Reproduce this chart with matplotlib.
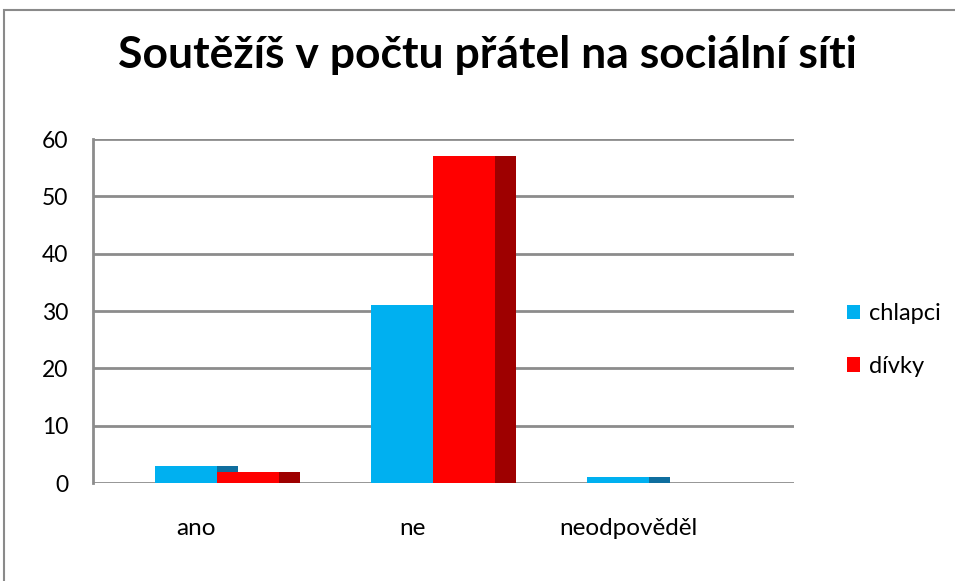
import numpy as np
import matplotlib.pyplot as plt
from matplotlib.patches import Rectangle

plt.rcParams['font.family'] = ['Lato', 'DejaVu Sans']

# data
categories = ['ano', 'ne', 'neodpověděl']
series_names = ['chlapci', 'dívky']
chlapci = [3, 31, 1]
divky = [2, 57, 0]
values = [chlapci, divky]
front_colors = ['#00B0F0', '#FF0000']
side_colors = ['#0F6E9E', '#9E0000']
grid_color = '#8C8C8C'

fig = plt.figure(figsize=(9.55, 5.81), dpi=100)
W, H = 955, 581
# plot area in pixels: x 93..794, y 139..483
ax = fig.add_axes([93 / W, (H - 483) / H, 701 / W, 344 / H])

w = 0.287   # front face width (one category = 1 unit)
d = 0.097   # visible depth of the side face
x = np.arange(len(categories))

for j, vals in enumerate(values):
    ax.bar(x + j * w, vals, width=w, align='edge', color=front_colors[j],
           edgecolor='none', zorder=3 + 2 * j, label=series_names[j])
    ax.bar(x + (j + 1) * w, vals, width=d, align='edge', color=side_colors[j],
           edgecolor='none', zorder=4 + 2 * j)

ax.set_xlim(-0.287, -0.287 + 701 / 216)
ax.set_ylim(0, 60)
ax.set_yticks(range(0, 61, 10))
ax.yaxis.grid(True, color=grid_color, linewidth=2, zorder=0)
ax.set_axisbelow(True)
ax.tick_params(axis='y', length=0, pad=18, labelsize=16.5)
ax.set_xticks(x + 0.19)
ax.set_xticklabels(categories)
ax.tick_params(axis='x', length=0, pad=25, labelsize=17.5)
for s in ['top', 'right', 'bottom']:
    ax.spines[s].set_visible(False)
ax.spines['left'].set_color(grid_color)
ax.spines['left'].set_linewidth(2)

fig.text(487 / W, 1 - 55 / H, 'Soutěžíš v počtu přátel na sociální síti',
         ha='center', va='center', fontsize=32, fontweight='bold')

# legend
handles, labels = ax.get_legend_handles_labels()
fig.legend(handles, labels, loc='center left',
           bbox_to_anchor=(826 / W, 1 - 340 / H), frameon=False,
           fontsize=17, handlelength=0.55, handleheight=0.55,
           handletextpad=0.35, labelspacing=1.35)

# chart border (runs off the right and bottom edge)
fig.patches.append(Rectangle((4 / W, -0.05), 1.2, 1 - 10 / H + 0.05,
                             transform=fig.transFigure, fill=False,
                             edgecolor='#8A8A8A', linewidth=1.5))

plt.savefig('out.png', dpi=100)
